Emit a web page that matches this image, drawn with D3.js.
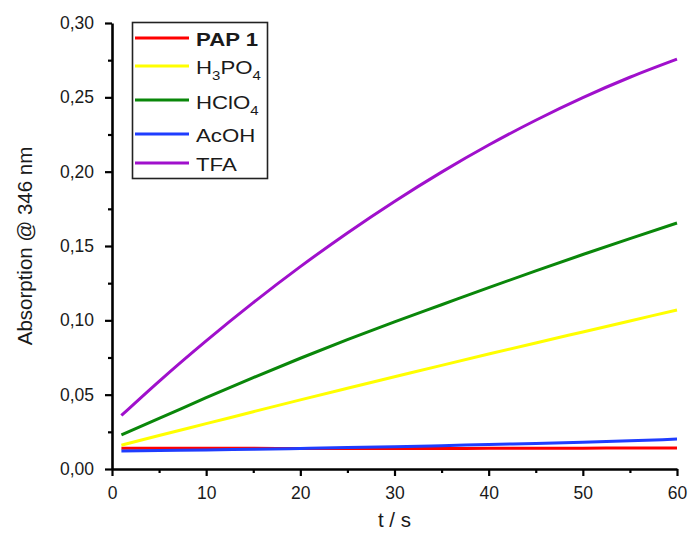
<!DOCTYPE html>
<html>
<head>
<meta charset="utf-8">
<script src="https://cdn.jsdelivr.net/npm/d3@7"></script>
<style>
  body { margin: 0; background: #fff; }
  text { font-family: "Liberation Sans", Arial, sans-serif; fill: #1a1a1a; }
</style>
</head>
<body>
<script>
// time points (s)
var times = [1, 5, 10, 15, 20, 25, 30, 35, 40, 45, 50, 55, 60];

// absorption @ 346 nm for each acid
var pap1  = [0.0140, 0.0140, 0.0139, 0.0139, 0.0138, 0.0138, 0.0138, 0.0138, 0.0139, 0.0139, 0.0140, 0.0141, 0.0142];
var h3po4 = [0.016, 0.0225, 0.0305, 0.0385, 0.0465, 0.0543, 0.062, 0.0697, 0.0773, 0.0848, 0.0922, 0.0996, 0.107];
var hclo4 = [0.023, 0.034, 0.048, 0.0615, 0.0745, 0.087, 0.099, 0.1105, 0.122, 0.1333, 0.1443, 0.155, 0.1655];
var acoh  = [0.0121, 0.0124, 0.0128, 0.0133, 0.0138, 0.0144, 0.0150, 0.0157, 0.0165, 0.0172, 0.0180, 0.0190, 0.0201];
var tfa   = [0.036, 0.059, 0.0862, 0.1119, 0.1361, 0.1588, 0.180, 0.1997, 0.2179, 0.2346, 0.2498, 0.2635, 0.2757];

var xTicks = [0, 10, 20, 30, 40, 50, 60];
var yTicks = [0, 0.05, 0.10, 0.15, 0.20, 0.25, 0.30];

// legend labels: [text, subscript] pieces
var series = [
  { name: "PAP 1", parts: [["PAP 1", 0]], values: pap1,  color: "#ff0000", bold: true },
  { name: "H3PO4", parts: [["H", 0], ["3", 1], ["PO", 0], ["4", 1]], values: h3po4, color: "#ffff00" },
  { name: "HClO4", parts: [["HClO", 0], ["4", 1]], values: hclo4, color: "#0a870a" },
  { name: "AcOH",  parts: [["AcOH", 0]], values: acoh,  color: "#1f3dff" },
  { name: "TFA",   parts: [["TFA", 0]], values: tfa,   color: "#a010cc" }
];

function init() {
  var width = 689, height = 535;
  var margin = { left: 112, right: 12, top: 23, bottom: 66 };

  var svg = d3.select("body").append("svg")
      .attr("width", width)
      .attr("height", height);

  var x = d3.scaleLinear().domain([0, 60]).range([margin.left, width - margin.right]);
  var y = d3.scaleLinear().domain([0, 0.30]).range([height - margin.bottom, margin.top]);

  var fmt = function(d) { return d3.format(".2f")(d).replace(".", ","); };

  // minor ticks
  var minorX = d3.range(5, 60, 10);
  var minorY = d3.range(0.025, 0.3, 0.05);

  svg.append("g")
    .attr("transform", "translate(0," + y(0) + ")")
    .call(d3.axisBottom(x).tickValues(minorX).tickSize(4).tickFormat(""))
    .call(function(g) { g.select(".domain").remove(); });
  svg.append("g")
    .attr("transform", "translate(" + x(0) + ",0)")
    .call(d3.axisLeft(y).tickValues(minorY).tickSize(4).tickFormat(""))
    .call(function(g) { g.select(".domain").remove(); });

  svg.append("g")
    .attr("transform", "translate(0," + y(0) + ")")
    .call(d3.axisBottom(x).tickValues(xTicks).tickSize(7).tickSizeOuter(0).tickPadding(11));
  svg.append("g")
    .attr("transform", "translate(" + x(0) + ",0)")
    .call(d3.axisLeft(y).tickValues(yTicks).tickSize(7).tickSizeOuter(0).tickPadding(11).tickFormat(fmt));

  svg.selectAll(".tick line").attr("stroke", "#000").attr("stroke-width", 2.2);
  svg.selectAll(".domain").attr("stroke", "#000").attr("stroke-width", 2.6);
  svg.selectAll(".tick text")
    .attr("font-size", 17.5)
    .attr("font-family", "Liberation Sans, Arial, sans-serif")
    .attr("fill", "#1a1a1a");

  // axis titles
  svg.append("text")
    .attr("x", (x(0) + x(60)) / 2)
    .attr("y", 527)
    .attr("text-anchor", "middle")
    .attr("font-size", 20.5)
    .text("t / s");
  svg.append("text")
    .attr("transform", "translate(32," + y(0.15) + ") rotate(-90)")
    .attr("text-anchor", "middle")
    .attr("font-size", 20.5)
    .text("Absorption @ 346 nm");

  var line = d3.line()
    .x(function(d, i) { return x(times[i]); })
    .y(function(d) { return y(d); })
    .curve(d3.curveMonotoneX);

  svg.append("g").selectAll("path")
    .data(series)
    .enter()
    .append("path")
    .attr("d", function(s) { return line(s.values); })
    .attr("fill", "none")
    .attr("stroke", function(s) { return s.color; })
    .attr("stroke-width", 3);

  // legend
  var legend = svg.append("g");
  legend.append("rect")
    .attr("x", 132.5).attr("y", 22.5)
    .attr("width", 135).attr("height", 156)
    .attr("fill", "#fff")
    .attr("stroke", "#222")
    .attr("stroke-width", 1.6);

  var rowY = [38, 66, 100, 134, 163];
  var items = legend.selectAll("g.item")
    .data(series)
    .enter()
    .append("g")
    .attr("class", "item")
    .attr("transform", function(d, i) { return "translate(0," + rowY[i] + ")"; });

  items.append("line")
    .attr("x1", 135).attr("x2", 189)
    .attr("stroke", function(d) { return d.color; })
    .attr("stroke-width", 3);

  // each label piece is placed after the previous one, stretched a little wider like the original
  items.each(function(d) {
    var g = d3.select(this);
    var cx = 196;
    var base = d.name === "HClO4" ? 9 : 7.5;
    d.parts.forEach(function(p) {
      var size = p[1] ? 12.5 : 18.5;
      var t = g.append("text")
        .attr("transform", "translate(" + cx + "," + (base + (p[1] ? 6 : 0)) + ") scale(1.2,1)")
        .attr("font-size", size)
        .attr("font-weight", d.bold ? "bold" : "normal")
        .text(p[0]);
      cx += t.node().getComputedTextLength() * 1.2;
    });
  });
}

window.onload = init;
</script>
</body>
</html>
